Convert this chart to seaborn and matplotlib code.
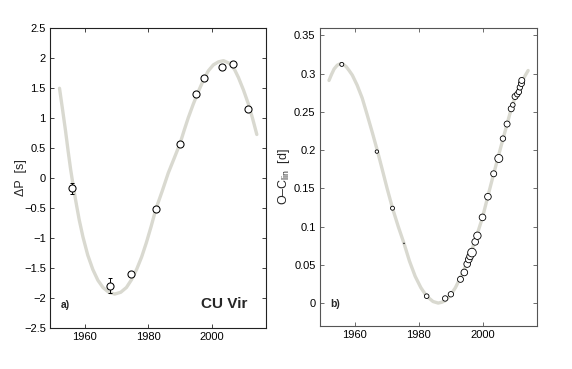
import numpy as np
import pandas as pd
import matplotlib
matplotlib.use("Agg")
import matplotlib.pyplot as plt
import seaborn as sns

# ---- panel a) period changes ----
dp_year = [1955.8, 1967.8, 1974.6, 1982.4, 1990.0, 1994.9, 1997.6, 2003.3, 2006.8, 2011.3]
dp_val = [-0.18, -1.80, -1.61, -0.52, 0.56, 1.40, 1.66, 1.85, 1.90, 1.14]
dp_err = [0.095, 0.12, 0.03, 0.0, 0.0, 0.0, 0.0, 0.0, 0.0, 0.0]

dp_fit_year = [1952.0, 1953.0, 1953.9, 1954.7, 1955.5, 1956.3, 1957.2, 1958.2, 1959.4,
               1960.9, 1962.5, 1964.1, 1965.7, 1967.5, 1969.4, 1971.3, 1973.1, 1974.7,
               1976.3, 1977.9, 1979.4, 1980.9, 1982.4, 1984.4, 1986.3, 1988.2, 1990.0,
               1991.3, 1992.6, 1994.2, 1995.8, 1997.4, 1998.9, 2000.5, 2002.1, 2003.7,
               2005.8, 2007.2, 2008.4, 2010.0, 2011.6, 2012.9, 2014.2]
dp_fit_val = [1.49, 1.12, 0.78, 0.45, 0.14, -0.13, -0.41, -0.70, -0.99,
              -1.29, -1.53, -1.71, -1.83, -1.91, -1.94, -1.91, -1.83, -1.70,
              -1.53, -1.32, -1.08, -0.81, -0.52, -0.22, 0.08, 0.33, 0.57,
              0.79, 1.00, 1.23, 1.44, 1.63, 1.78, 1.88, 1.93, 1.95,
              1.90, 1.80, 1.67, 1.46, 1.22, 0.98, 0.72]

# ---- panel b) O-C diagram ----
oc_year = [1955.9, 1966.9, 1971.8, 1975.4, 1982.5, 1988.3, 1990.1, 1993.1, 1994.3,
           1995.2, 1995.7, 1996.1, 1996.7, 1997.7, 1998.4, 2000.0, 2001.7, 2003.5,
           2005.1, 2006.4, 2007.7, 2009.0, 2009.5, 2010.2, 2010.9, 2011.4, 2011.7,
           2012.2, 2012.3]
oc_val = [0.312, 0.198, 0.124, 0.078, 0.009, 0.006, 0.0115, 0.031, 0.040,
          0.051, 0.057, 0.061, 0.066, 0.080, 0.088, 0.112, 0.139, 0.169,
          0.189, 0.215, 0.234, 0.254, 0.259, 0.270, 0.273, 0.276, 0.282,
          0.287, 0.291]
oc_weight = [4.0, 2.9, 4.0, 0.1, 5.3, 7.3, 7.3, 9.0, 11.0,
             11.0, 11.0, 11.0, 18.5, 11.0, 13.7, 11.0, 11.0, 9.0,
             16.0, 7.3, 9.0, 9.0, 5.3, 9.0, 7.3, 7.3, 7.3,
             9.0, 9.0]

oc_fit_year = [1951.9, 1952.7, 1953.5, 1954.5, 1955.5, 1956.4, 1957.3, 1958.2, 1959.2,
               1960.7, 1962.3, 1963.8, 1965.4, 1967.0, 1968.5, 1970.1, 1971.8, 1973.6,
               1975.4, 1977.1, 1978.9, 1980.7, 1982.5, 1984.5, 1986.1, 1987.2, 1988.3,
               1989.9, 1991.5, 1993.5, 1995.6, 1997.8, 2000.0, 2001.7, 2003.5, 2006.0,
               2007.5, 2009.0, 2010.2, 2011.5, 2012.9, 2014.3]
oc_fit_val = [0.291, 0.299, 0.306, 0.311, 0.313, 0.312, 0.309, 0.304, 0.298,
              0.285, 0.268, 0.247, 0.224, 0.200, 0.176, 0.150, 0.124, 0.100,
              0.078, 0.055, 0.035, 0.020, 0.009, 0.002, 0.0, 0.001, 0.003,
              0.010, 0.020, 0.037, 0.057, 0.083, 0.112, 0.140, 0.169, 0.208,
              0.231, 0.254, 0.269, 0.282, 0.294, 0.304]

dp_ticks = [-2.5, -2, -1.5, -1, -0.5, 0, 0.5, 1, 1.5, 2, 2.5]
dp_ticklabels = ["\u22122.5", "\u22122", "\u22121.5", "\u22121", "\u22120.5", "0",
                 "0.5", "1", "1.5", "2", "2.5"]
oc_ticks = [0, 0.05, 0.1, 0.15, 0.2, 0.25, 0.3, 0.35]
oc_ticklabels = ["0", "0.05", "0.1", "0.15", "0.2", "0.25", "0.3", "0.35"]
year_ticks = [1960, 1980, 2000]

sns.set_style("ticks")
plt.rcParams["font.family"] = ["Liberation Sans", "DejaVu Sans"]
plt.rcParams["mathtext.fontset"] = "custom"
plt.rcParams["mathtext.rm"] = "Liberation Sans"

fig = plt.figure(figsize=(5.72, 3.69), dpi=100)
ax1 = fig.add_axes([0.0874, 0.112, 0.3771, 0.813])
ax2 = fig.add_axes([0.559, 0.1165, 0.3794, 0.8085])

fit_color = "#d9d9d0"

# panel a
fit_a = pd.DataFrame({"year": dp_fit_year, "val": dp_fit_val})
sns.lineplot(data=fit_a, x="year", y="val", ax=ax1, color=fit_color, lw=2.4, sort=False)
ax1.errorbar(dp_year, dp_val, yerr=dp_err, fmt="none", ecolor="black", elinewidth=0.7,
             capsize=1.6, capthick=0.7, zorder=3)
pts_a = pd.DataFrame({"year": dp_year, "val": dp_val})
sns.scatterplot(data=pts_a, x="year", y="val", ax=ax1, marker="o", s=26,
                facecolor="white", edgecolor="black", linewidth=0.75, zorder=4)
ax1.set_xlim(1949, 2017)
ax1.set_ylim(-2.5, 2.5)
ax1.set_yticks(dp_ticks)
ax1.set_yticklabels(dp_ticklabels)
ax1.set_xticks(year_ticks)
ax1.set_xlabel("")
ax1.set_ylabel("\u0394P  [s]", fontsize=9)
ax1.yaxis.set_label_coords(-0.108, 0.5)
ax1.text(0.05, 0.065, "a)", transform=ax1.transAxes, fontsize=7.5, fontweight="bold")
ax1.text(0.915, 0.065, "CU Vir", transform=ax1.transAxes, fontsize=11, fontweight="bold",
         ha="right")

# panel b
fit_b = pd.DataFrame({"year": oc_fit_year, "val": oc_fit_val})
sns.lineplot(data=fit_b, x="year", y="val", ax=ax2, color=fit_color, lw=2.4, sort=False)
pts_b = pd.DataFrame({"year": oc_year, "val": oc_val, "w": oc_weight})
sns.scatterplot(data=pts_b, x="year", y="val", size="w", sizes=(0, 41.5), size_norm=(0, 20),
                ax=ax2, marker="o", facecolor="white", edgecolor="black", linewidth=0.6,
                legend=False, zorder=4)
ax2.set_xlim(1949, 2017)
ax2.set_ylim(-0.03, 0.36)
ax2.set_yticks(oc_ticks)
ax2.set_yticklabels(oc_ticklabels)
ax2.set_xticks(year_ticks)
ax2.set_xlabel("")
ax2.set_ylabel("O\u2013C$_\\mathregular{lin}$  [d]", fontsize=9)
ax2.yaxis.set_label_coords(-0.127, 0.5)
ax2.text(0.05, 0.065, "b)", transform=ax2.transAxes, fontsize=7.5, fontweight="bold")

for ax, sc in ((ax1, "#222222"), (ax2, "#555555")):
    for sp in ax.spines.values():
        sp.set_visible(True)
        sp.set_color(sc)
        sp.set_linewidth(0.8)
    ax.tick_params(direction="in", length=3, width=0.6, top=True, right=True,
                   labelsize=8, colors="black", pad=3)
    ax.tick_params(axis="both", color=sc)

fig.savefig("out.png", dpi=100)
